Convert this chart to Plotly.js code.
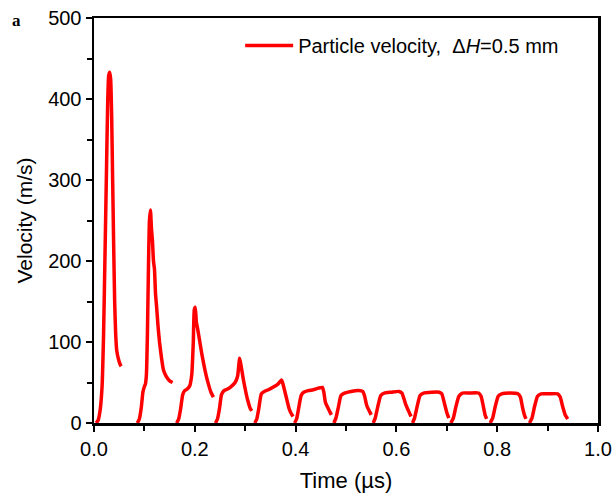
<!DOCTYPE html>
<html>
<head>
<meta charset="utf-8">
<script src="https://cdn.plot.ly/plotly-3.0.1.min.js"></script>
<style>
  html, body { margin: 0; padding: 0; background: #ffffff; }
  #chart { width: 614px; height: 498px; }
</style>
</head>
<body>
<div id="chart"></div>
<script>
// Particle velocity pulses (time in µs, velocity in m/s)
const p1Time = [0.004, 0.008, 0.012, 0.016, 0.019, 0.022, 0.025, 0.027, 0.029, 0.031, 0.033, 0.035, 0.037, 0.039, 0.041, 0.043, 0.045, 0.048, 0.052, 0.054];
const p1Vel  = [0, 3, 15, 45, 110, 214, 320, 390, 428, 433, 425, 380, 300, 220, 150, 110, 90, 80, 72, 70];

const p2Time = [0.086, 0.090, 0.094, 0.097, 0.100, 0.102, 0.104, 0.106, 0.108, 0.110, 0.112, 0.114, 0.116, 0.118, 0.120, 0.122, 0.124, 0.127, 0.130, 0.134, 0.138, 0.143, 0.150, 0.156];
const p2Vel  = [0, 5, 20, 38, 45, 48, 60, 110, 190, 250, 263, 240, 225, 200, 190, 160, 145, 120, 100, 80, 65, 58, 52, 50];

const p3Time = [0.164, 0.168, 0.172, 0.176, 0.180, 0.185, 0.190, 0.194, 0.197, 0.199, 0.201, 0.203, 0.206, 0.210, 0.214, 0.218, 0.222, 0.227, 0.232, 0.237];
const p3Vel  = [0, 5, 18, 35, 40, 42, 46, 60, 100, 140, 143, 125, 115, 100, 85, 72, 60, 48, 38, 32];

const p4Time = [0.241, 0.245, 0.249, 0.253, 0.258, 0.265, 0.272, 0.280, 0.285, 0.289, 0.292, 0.296, 0.300, 0.305, 0.310, 0.313];
const p4Vel  = [0, 5, 18, 35, 40, 42, 45, 50, 58, 80, 70, 55, 42, 28, 18, 15];

const p5Time = [0.319, 0.323, 0.327, 0.332, 0.338, 0.346, 0.355, 0.365, 0.372, 0.375, 0.379, 0.383, 0.387, 0.391, 0.395];
const p5Vel  = [0, 5, 18, 36, 39, 41, 44, 48, 53, 48, 38, 28, 18, 12, 8];

const p6Time = [0.398, 0.402, 0.406, 0.411, 0.416, 0.425, 0.435, 0.445, 0.453, 0.456, 0.459, 0.463, 0.467, 0.471];
const p6Vel  = [0, 5, 18, 34, 38, 40, 41, 43, 44, 38, 26, 20, 15, 10];

const p7Time = [0.476, 0.480, 0.485, 0.490, 0.497, 0.510, 0.525, 0.533, 0.537, 0.541, 0.546, 0.550];
const p7Vel  = [0, 6, 20, 34, 37, 39, 40, 39, 33, 22, 15, 10];

const p8Time = [0.554, 0.558, 0.563, 0.569, 0.576, 0.590, 0.605, 0.611, 0.615, 0.619, 0.624, 0.629];
const p8Vel  = [0, 6, 20, 34, 37, 38, 39, 37, 30, 22, 15, 8];

const p9Time = [0.632, 0.636, 0.641, 0.647, 0.654, 0.670, 0.685, 0.690, 0.695, 0.700, 0.704];
const p9Vel  = [0, 6, 20, 34, 37, 38, 38, 36, 25, 13, 6];

const p10Time = [0.708, 0.713, 0.718, 0.724, 0.731, 0.745, 0.763, 0.768, 0.772, 0.776, 0.779];
const p10Vel  = [0, 6, 20, 33, 37, 37, 37, 33, 22, 10, 5];

const p11Time = [0.786, 0.791, 0.796, 0.802, 0.809, 0.825, 0.841, 0.846, 0.850, 0.854, 0.857];
const p11Vel  = [0, 6, 20, 33, 36, 37, 36, 32, 20, 10, 5];

const p12Time = [0.864, 0.869, 0.874, 0.880, 0.887, 0.903, 0.920, 0.925, 0.930, 0.935, 0.940];
const p12Vel  = [0, 6, 20, 33, 36, 36, 36, 32, 20, 10, 5];

const xTickVals = [0, 0.2, 0.4, 0.6, 0.8, 1.0];
const xTickText = ['0.0', '0.2', '0.4', '0.6', '0.8', '1.0'];
const yTickVals = [0, 100, 200, 300, 400, 500];

// Join pulses with gaps so they are drawn as separate segments of one series
const pulseTimes = [p1Time, p2Time, p3Time, p4Time, p5Time, p6Time, p7Time, p8Time, p9Time, p10Time, p11Time, p12Time];
const pulseVels  = [p1Vel, p2Vel, p3Vel, p4Vel, p5Vel, p6Vel, p7Vel, p8Vel, p9Vel, p10Vel, p11Vel, p12Vel];
const xs = [], ys = [];
pulseTimes.forEach((t, i) => {
  if (i > 0) { xs.push(null); ys.push(null); }
  t.forEach((v, j) => { xs.push(v); ys.push(pulseVels[i][j]); });
});

const FONT = 'Liberation Sans, Arial, sans-serif';

const trace = {
  x: xs, y: ys,
  type: 'scatter', mode: 'lines',
  connectgaps: false,
  name: 'Particle velocity,&nbsp;&nbsp;Δ<i>H</i>=0.5 mm',
  line: { color: '#ff0000', width: 3.5, shape: 'spline', smoothing: 0.5 }
};

const layout = {
  width: 614, height: 498,
  paper_bgcolor: '#ffffff', plot_bgcolor: '#ffffff',
  margin: { l: 94, r: 16, t: 18, b: 75 },
  font: { family: FONT, color: '#000000' },
  showlegend: true,
  legend: {
    x: 0.29, y: 0.98, xanchor: 'left', yanchor: 'top',
    itemwidth: 48,
    bgcolor: 'rgba(0,0,0,0)', borderwidth: 0,
    font: { family: FONT, size: 20, color: '#000000' }
  },
  xaxis: {
    range: [0, 1], tickvals: xTickVals, ticktext: xTickText,
    showgrid: false, zeroline: false,
    showline: true, linecolor: '#000000', linewidth: 2.5, mirror: true,
    ticks: 'outside', ticklen: 6, tickwidth: 2, tickcolor: '#000000',
    minor: { dtick: 0.1, ticks: 'outside', ticklen: 5, tickwidth: 2, tickcolor: '#000000', showgrid: false },
    tickfont: { family: FONT, size: 20, color: '#000000' },
    title: { text: 'Time (µs)', font: { family: FONT, size: 22, color: '#000000' }, standoff: 14 }
  },
  yaxis: {
    range: [0, 500], tickvals: yTickVals,
    showgrid: false, zeroline: false,
    showline: true, linecolor: '#000000', linewidth: 2.5, mirror: true,
    ticks: 'outside', ticklen: 6, tickwidth: 2, tickcolor: '#000000',
    minor: { dtick: 50, ticks: 'outside', ticklen: 5, tickwidth: 2, tickcolor: '#000000', showgrid: false },
    tickfont: { family: FONT, size: 20, color: '#000000' },
    title: { text: 'Velocity (m/s)', font: { family: FONT, size: 21, color: '#000000' }, standoff: 10 }
  },
  annotations: [{
    text: '<b>a</b>', xref: 'paper', yref: 'paper', x: 0, y: 1,
    xanchor: 'left', yanchor: 'top', showarrow: false,
    xshift: -84, yshift: 9,
    font: { family: 'Liberation Serif, Times New Roman, serif', size: 17, color: '#000000' }
  }]
};

Plotly.newPlot('chart', [trace], layout, { displayModeBar: false, staticPlot: true });
</script>
</body>
</html>
